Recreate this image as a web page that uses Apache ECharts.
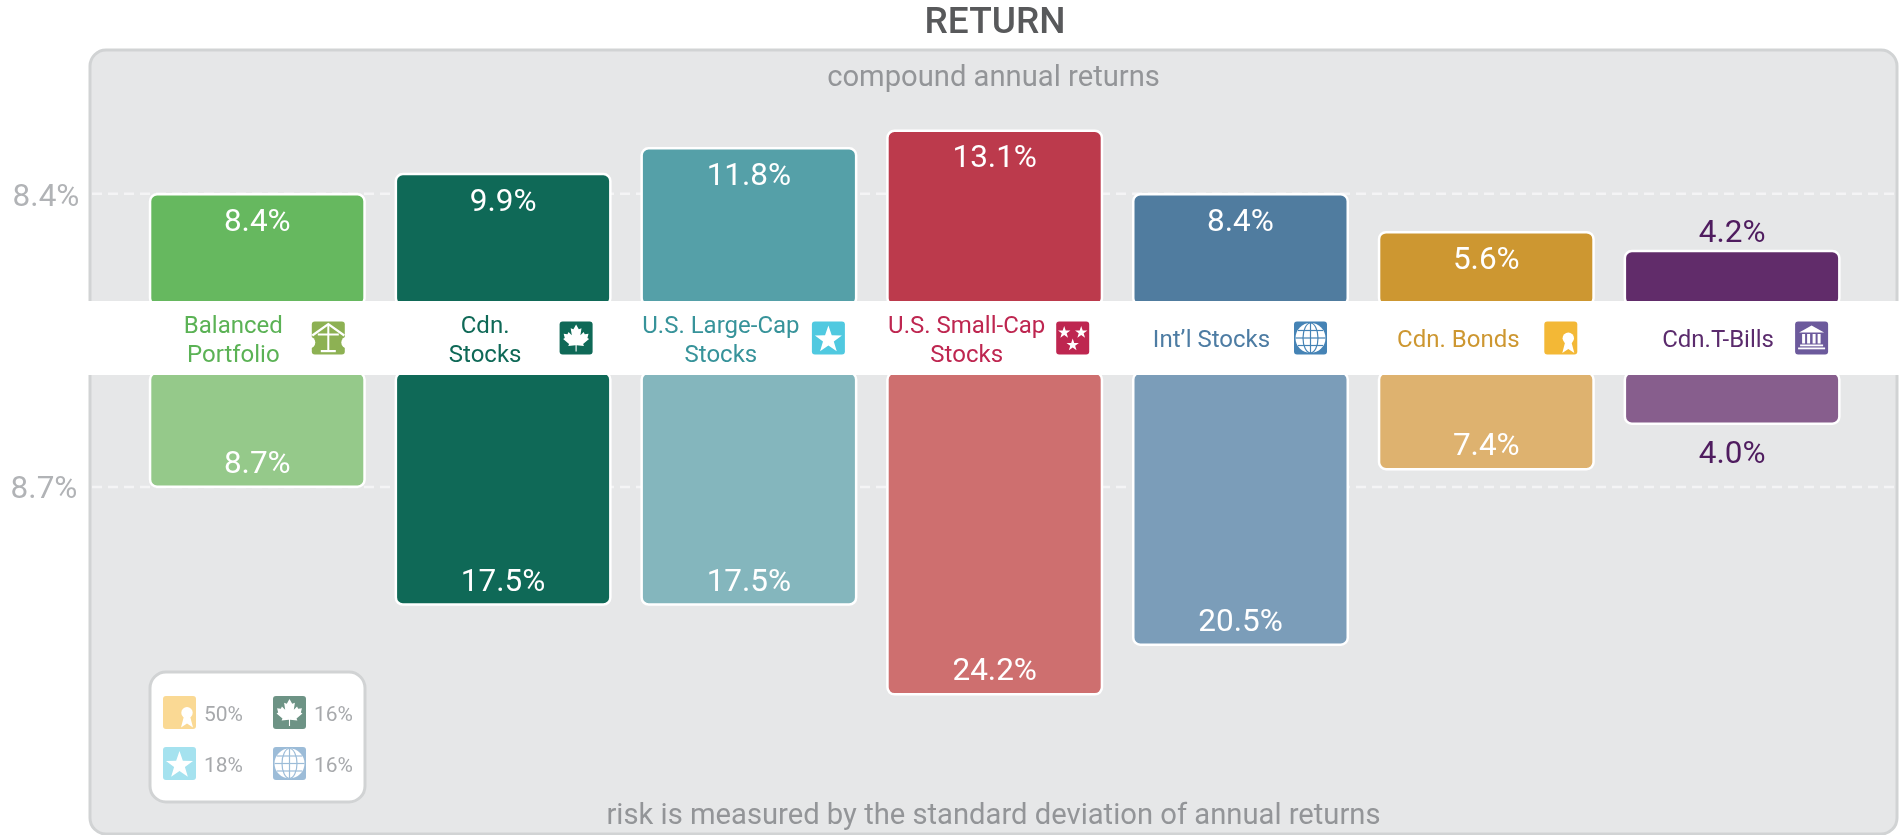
<!DOCTYPE html>
<html>
<head>
<meta charset="utf-8">
<style>html,body{margin:0;padding:0;background:#fff}#c{width:1903px;height:835px}</style>
<script src="https://cdn.jsdelivr.net/npm/echarts@6/dist/echarts.min.js"></script>
</head>
<body>
<div id="c"></div>
<script>
// ---- data ----
const categories = ['Balanced\nPortfolio', 'Cdn.\nStocks', 'U.S. Large-Cap\nStocks', 'U.S. Small-Cap\nStocks', "Int\u2019l Stocks", 'Cdn. Bonds', 'Cdn.T-Bills'];
const returns = [8.4, 9.9, 11.8, 13.1, 8.4, 5.6, 4.2];
const risks = [8.7, 17.5, 17.5, 24.2, 20.5, 7.4, 4.0];
const returnTicks = [8.4];
const riskTicks = [8.7];
const mixLabels = ['50%', '16%', '18%', '16%'];
const mixIcons = ['ribbon', 'leaf', 'star', 'globe'];

// ---- styling ----
const returnColors = ['#66b85f', '#0f6957', '#55a0a8', '#bc3a4c', '#507c9f', '#cd9731', '#612c6a'];
const riskColors = ['#95c98a', '#0f6957', '#84b6bd', '#ce6f6f', '#7b9db9', '#deb26f', '#875e8d'];
const textColors = ['#5bb255', '#0f6957', '#37939a', '#be2650', '#4d7ca3', '#cd9731', '#5b2b6d'];
const iconColors = ['#8db153', '#0f6957', '#50c9e0', '#be2650', '#4583b5', '#f3b836', '#6c5a9c'];
const iconKinds = ['balance', 'leaf', 'star', 'stars', 'globe', 'ribbon', 'bank'];
const textOffsets = [-24, -18, -28, -28, -29, -28, -14];
const iconOffsets = [71, 73, 79.5, 78, 70, 74.5, 79.5];
const mixColors = ['#fad994', '#6d9385', '#a5e2ef', '#9cbcd8'];
const mixPos = [[163, 696], [273, 696], [163, 747], [273, 747]];
const FONT = 'Roboto, sans-serif';
const BAND_MID = 338;
const ICON = 33;
const leafShape = [[16.5,4],[19,8.5],[21.5,7.5],[20.5,14],[23.5,11],[24.5,13],[28,12.5],[27,16.5],[28.5,17.5],[23,22],[23.8,24],[17,23.2],[17,29],[16,29],[16,23.2],[9.2,24],[10,22],[4.5,17.5],[6,16.5],[5,12.5],[8.5,13],[9.5,11],[12.5,14],[11.5,7.5],[14,8.5]];

function starPts(cx, cy, R) {
  const pts = [];
  for (let i = 0; i < 10; i++) {
    const r = i % 2 ? R * 0.4 : R, a = -Math.PI / 2 + i * Math.PI / 5;
    pts.push([cx + r * Math.cos(a), cy + r * Math.sin(a)]);
  }
  return pts;
}
function poly(points, fill) { return { type: 'polygon', shape: { points }, style: { fill: fill || '#fff' } }; }
function box(x, y, width, height, fill) { return { type: 'rect', shape: { x, y, width, height }, style: { fill: fill || '#fff' } }; }
function iconChildren(kind, color) {
  const kids = [{ type: 'rect', shape: { x: 0, y: 0, width: ICON, height: ICON, r: 3 }, style: { fill: color } }];
  if (kind === 'leaf') {
    kids.push(poly(leafShape.map(p => [16.5 + (p[0] - 16.5) * 1.08, 3 + (p[1] - 4) * 1.08])));
  } else if (kind === 'star') {
    kids.push(poly(starPts(16.5, 18.3, 14.2)));
  } else if (kind === 'stars') {
    kids.push(poly(starPts(8, 11, 6.5)), poly(starPts(25, 11, 6.5)), poly(starPts(16.5, 23.5, 6.5)));
  } else if (kind === 'ribbon') {
    kids.push({ type: 'circle', shape: { cx: 24, cy: 16.7, r: 5.7 }, style: { fill: '#fff' } });
    kids.push(poly([[21,20],[18,31.5],[24,27.5],[30,31.5],[27,20]]));
  } else if (kind === 'globe') {
    const ln = { stroke: color, lineWidth: 1.2, fill: 'none' };
    kids.push({ type: 'circle', shape: { cx: 16.5, cy: 16.5, r: 15 }, style: { fill: '#fff' } });
    kids.push({ type: 'ellipse', shape: { cx: 16.5, cy: 16.5, rx: 7.5, ry: 15 }, style: ln });
    kids.push({ type: 'line', shape: { x1: 16.5, y1: 1.5, x2: 16.5, y2: 31.5 }, style: ln });
    kids.push({ type: 'line', shape: { x1: 1.5, y1: 16.5, x2: 31.5, y2: 16.5 }, style: ln });
    kids.push({ type: 'line', shape: { x1: 4, y1: 9, x2: 29, y2: 9 }, style: ln });
    kids.push({ type: 'line', shape: { x1: 4, y1: 24, x2: 29, y2: 24 }, style: ln });
  } else if (kind === 'bank') {
    kids.push(poly([[16.5,4],[29,11],[4,11]]));
    [7, 12, 17.5, 22.5].forEach(x => kids.push(box(x, 12.5, 3, 9.5)));
    kids.push(box(5, 23, 23, 1.8), box(3, 26, 27, 1.8));
  } else if (kind === 'balance') {
    kids.push({ type: 'circle', shape: { cx: -2.5, cy: 21, r: 6 }, style: { fill: '#fff' } });
    kids.push({ type: 'circle', shape: { cx: 35.5, cy: 21, r: 6 }, style: { fill: '#fff' } });
    kids.push({ type: 'polyline', shape: { points: [[0.5, 14], [16.5, 2.5], [32.5, 14]] }, style: { stroke: '#fff', lineWidth: 2.2, fill: 'none' } });
    kids.push(box(6, 12, 21, 2), box(15.5, 3, 2, 26), box(9, 28.5, 15, 2.2));
  }
  return kids;
}

function barData(values, colors, outside, label) {
  return values.map((v, i) => {
    const item = { value: v, itemStyle: { color: colors[i] } };
    if (v < outside) item.label = { position: label.pos, color: label.color, distance: label.distance };
    return item;
  });
}
const barCommon = {
  type: 'bar', barWidth: 217, z: 2, silent: true,
  itemStyle: { borderColor: '#fff', borderWidth: 2.5, borderRadius: 7 },
  label: { show: true, color: '#fff', fontFamily: FONT, fontWeight: 400, fontSize: 31.5, formatter: p => p.value.toFixed(1) + '%' }
};
function ruleSeries(values, gridIdx, shift) {
  return {
    type: 'custom', xAxisIndex: gridIdx, yAxisIndex: gridIdx, z: 1, silent: true,
    data: values.map(v => [0, v]),
    renderItem: (params, api) => {
      const y = api.coord([0, api.value(1)])[1] + shift;
      return { type: 'line', shape: { x1: 92, y1: y, x2: 1896, y2: y }, style: { stroke: '#f4f4f5', lineWidth: 2.5, lineDash: [10, 6] } };
    }
  };
}
const xAxisBase = { type: 'category', data: categories, axisLine: { show: false }, axisTick: { show: false }, axisLabel: { show: false }, splitLine: { show: false } };
const yAxisBase = {
  type: 'value', min: 0, axisLine: { show: false }, axisTick: { show: false }, splitLine: { show: false }
};
const tickLabel = { color: '#b1b3b6', fontFamily: FONT, fontWeight: 400, fontSize: 31.5, verticalAlign: 'top', formatter: v => v.toFixed(1) + '%' };

const legendGraphics = mixLabels.map((t, i) => ({
  type: 'group', x: mixPos[i][0], y: mixPos[i][1],
  children: iconChildren(mixIcons[i], mixColors[i]).concat([
    { type: 'text', style: { text: t, x: 41, y: 19.5, fill: '#a7a9ac', font: '400 21px ' + FONT, textAlign: 'left', textVerticalAlign: 'middle' } }
  ]).map(k => Object.assign(k, { z: 8 }))
}));

const option = {
  animation: false,
  backgroundColor: '#fff',
  title: [
    { text: 'RETURN', left: 990, top: 0, textAlign: 'center', textStyle: { color: '#58595b', fontFamily: FONT, fontWeight: 500, fontSize: 37 } },
    { text: 'compound annual returns', left: 988.5, top: 59, textAlign: 'center', textStyle: { color: '#939598', fontFamily: FONT, fontWeight: 400, fontSize: 29.2 } },
    { text: 'risk is measured by the standard deviation of annual returns', left: 988.5, top: 797, textAlign: 'center', textStyle: { color: '#939598', fontFamily: FONT, fontWeight: 400, fontSize: 29.2 } }
  ],
  grid: [
    { left: 134.4, width: 1720.6, top: 103.8, height: 202.8 },
    { left: 134.4, width: 1720.6, top: 371.3, height: 335 }
  ],
  xAxis: [
    Object.assign({}, xAxisBase, { gridIndex: 0 }),
    Object.assign({}, xAxisBase, { gridIndex: 1 })
  ],
  yAxis: [
    Object.assign({}, yAxisBase, { gridIndex: 0, max: 15, axisLabel: Object.assign({}, tickLabel, { customValues: returnTicks, margin: 55, lineHeight: 10 }) }),
    Object.assign({}, yAxisBase, { gridIndex: 1, max: 25, inverse: true, axisLabel: Object.assign({}, tickLabel, { customValues: riskTicks, margin: 57, lineHeight: 5 }) })
  ],
  graphic: [
    { type: 'rect', z: -10, shape: { x: 90, y: 50, width: 1807, height: 784, r: 16 }, style: { fill: '#e6e7e8', stroke: '#d1d3d4', lineWidth: 3 } },
    { type: 'rect', z: 5, shape: { x: 88, y: 301, width: 1812, height: 74 }, style: { fill: '#fff' } },
    { type: 'rect', z: 7, shape: { x: 150, y: 672, width: 215, height: 130, r: 16 }, style: { fill: '#fff', stroke: '#d1d3d4', lineWidth: 3 } }
  ].concat(legendGraphics),
  series: [
    ruleSeries(returnTicks, 0, 0.7),
    ruleSeries(riskTicks, 1, -1),
    Object.assign({}, barCommon, {
      name: 'Return', xAxisIndex: 0, yAxisIndex: 0,
      label: Object.assign({}, barCommon.label, { position: 'insideTop', distance: 14 }),
      data: barData(returns, returnColors, 5, { pos: 'top', color: '#4f1c5f', distance: 0 })
    }),
    Object.assign({}, barCommon, {
      name: 'Risk', xAxisIndex: 1, yAxisIndex: 1,
      label: Object.assign({}, barCommon.label, { position: 'insideBottom', distance: 7 }),
      data: barData(risks, riskColors, 5, { pos: 'bottom', color: '#4f1c5f', distance: 14 })
    }),
    {
      type: 'custom', xAxisIndex: 0, yAxisIndex: 0, z: 10, silent: true,
      data: categories.map((c, i) => [i, 0]),
      renderItem: (params, api) => {
        const i = params.dataIndex;
        const cx = api.coord([api.value(0), 0])[0];
        return {
          type: 'group',
          children: [
            { type: 'text', style: { text: categories[i], x: cx + textOffsets[i], y: BAND_MID + 3, fill: textColors[i], font: '24px ' + FONT, lineHeight: 29, textAlign: 'center', textVerticalAlign: 'middle' } },
            { type: 'group', x: cx + iconOffsets[i] - ICON / 2, y: BAND_MID - ICON / 2, children: iconChildren(iconKinds[i], iconColors[i]) }
          ]
        };
      }
    }
  ]
};
echarts.init(document.getElementById('c'), null, { renderer: 'canvas' }).setOption(option);
</script>
</body>
</html>
